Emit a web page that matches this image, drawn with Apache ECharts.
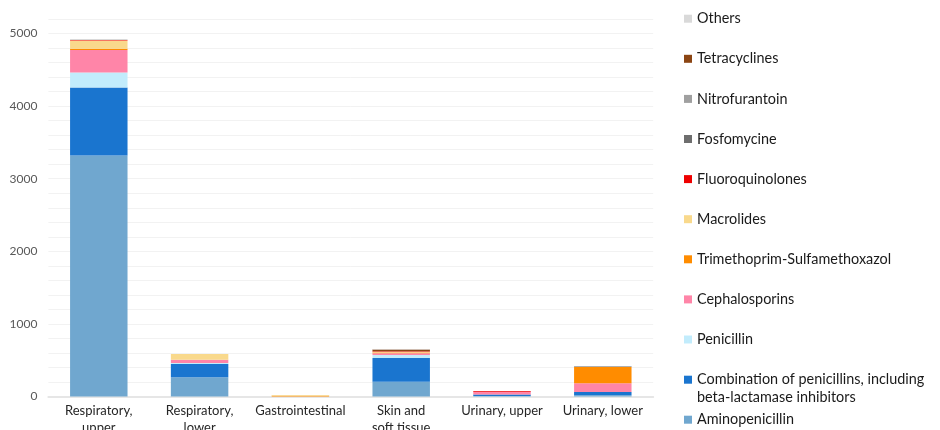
<!DOCTYPE html>
<html>
<head>
<meta charset="utf-8">
<script src="https://cdn.jsdelivr.net/npm/echarts@6/dist/echarts.min.js"></script>
<style>
html,body{margin:0;padding:0;background:#fff;}
#chart{width:940px;height:430px;}
</style>
</head>
<body>
<div id="chart"></div>
<script>
var categories = ['Respiratory,\nupper', 'Respiratory,\nlower', 'Gastrointestinal', 'Skin and\nsoft tissue', 'Urinary, upper', 'Urinary, lower'];
var yTickLabels = [0, 1000, 2000, 3000, 4000, 5000];

var aminopenicillin = [3321, 264, 0, 204, 8, 16];
var combination     = [935, 183, 0, 326, 18, 46];
var penicillin      = [206, 15, 0, 40, 0, 0];
var cephalosporins  = [312, 45, 0, 25, 38, 119];
var trimethoprim    = [15, 0, 10, 10, 0, 224];
var macrolides      = [114, 80, 10, 10, 0, 0];
var fluoroquinolones= [8, 0, 0, 8, 12, 0];
var fosfomycine     = [0, 0, 0, 0, 0, 4];
var nitrofurantoin  = [0, 0, 0, 0, 0, 10];
var tetracyclines   = [0, 0, 0, 25, 0, 0];
var others          = [15, 0, 0, 5, 0, 0];

var seriesDefs = [
  ['Aminopenicillin', aminopenicillin, '#70a7cf'],
  ['Combination of penicillins, including\nbeta-lactamase inhibitors', combination, '#1a75cf'],
  ['Penicillin', penicillin, '#c2ecfc'],
  ['Cephalosporins', cephalosporins, '#ff85a8'],
  ['Trimethoprim-Sulfamethoxazol', trimethoprim, '#ff8c00'],
  ['Macrolides', macrolides, '#f9d98c'],
  ['Fluoroquinolones', fluoroquinolones, '#ee0000'],
  ['Fosfomycine', fosfomycine, '#6e6e6e'],
  ['Nitrofurantoin', nitrofurantoin, '#a0a0a0'],
  ['Tetracyclines', tetracyclines, '#8b4513'],
  ['Others', others, '#d9d9d9']
];

var series = seriesDefs.map(function (d) {
  return {
    name: d[0],
    type: 'bar',
    stack: 'total',
    barWidth: '57%',
    data: d[1],
    itemStyle: { color: d[2] },
    emphasis: { disabled: true }
  };
});

var legendFont = { fontFamily: 'Lato', fontSize: 14.4, color: '#1a1a1a', lineHeight: 20 };
var names = seriesDefs.map(function (d) { return d[0]; });
var topNames = names.slice(2).reverse(); // Others ... Penicillin

var chart = echarts.init(document.getElementById('chart'), null, { renderer: 'canvas' });
chart.setOption({
  animation: false,
  backgroundColor: '#ffffff',
  grid: { left: 48.4, right: 286.8, top: 19, bottom: 33.5, containLabel: false, outerBoundsMode: 'none' },
  legend: [
    {
      orient: 'vertical', left: 684, top: 8.7, padding: 0,
      itemWidth: 8, itemHeight: 8, itemGap: 20.1, icon: 'rect',
      textStyle: legendFont,
      data: topNames
    },
    {
      orient: 'vertical', left: 684, top: 353.3, padding: 0,
      itemWidth: 8, itemHeight: 8, icon: 'rect',
      textStyle: { fontFamily: 'Lato', fontSize: 14.4, color: '#1a1a1a', lineHeight: 17.6 },
      formatter: function (n) { return '\n' + n; },
      data: [names[1]]
    },
    {
      orient: 'vertical', left: 684, top: 409.7, padding: 0,
      itemWidth: 8, itemHeight: 8, icon: 'rect',
      textStyle: legendFont,
      data: [names[0]]
    }
  ],
  xAxis: {
    type: 'category',
    data: categories,
    axisTick: { show: false },
    axisLine: { show: true, lineStyle: { color: '#e6e6e6', width: 2 } },
    axisLabel: { fontFamily: 'Lato', fontSize: 13, color: '#262626', margin: 6, lineHeight: 17, interval: 0 }
  },
  yAxis: {
    type: 'value',
    min: 0, max: 5200, interval: 200,
    axisLine: { show: false },
    axisTick: { show: false },
    splitLine: { lineStyle: { color: '#f2f2f2', width: 1 } },
    axisLabel: {
      fontFamily: 'Lato', fontSize: 12, color: '#595959', margin: 11,
      formatter: function (v) { return yTickLabels.indexOf(v) >= 0 ? String(v) : ''; }
    }
  },
  series: series
});
</script>
</body>
</html>
